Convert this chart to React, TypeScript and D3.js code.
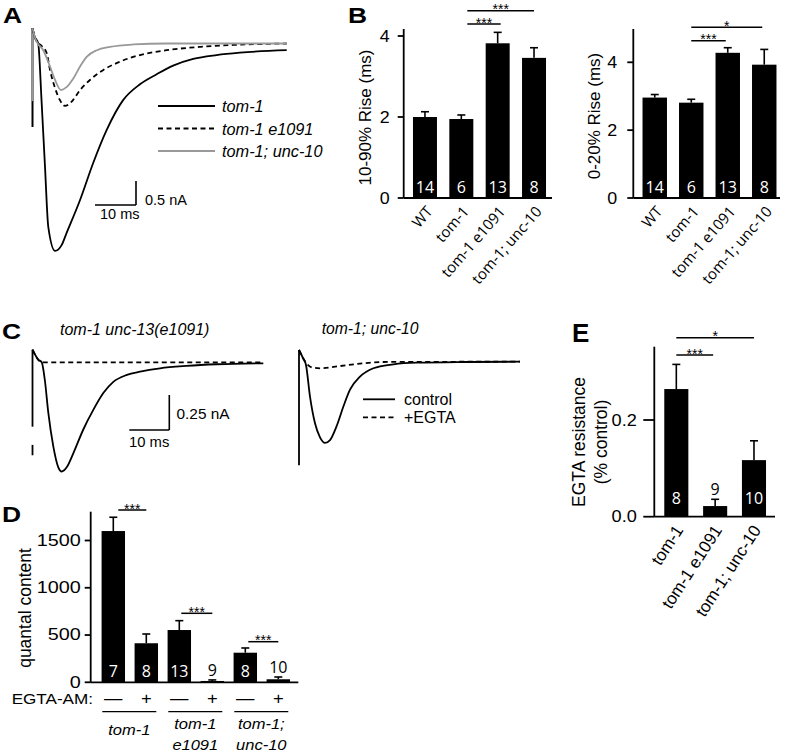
import React from 'react';
import * as d3 from 'd3';

type Pt = [number, number];

// ---------- Panel A traces: [time (ms), current (nA)] ----------
const traceA_tom1: Pt[] = [[0,0.32],[0.5,0.15],[1.4,0],[2.2,-1.18],[3.05,-2.57],[3.85,-3.82],[5.5,-4.32],[7.1,-4.2],[8.3,-3.95],[11.6,-3.26],[14.8,-2.49],[18.1,-1.8],[22.1,-1.18],[26.2,-0.85],[30.3,-0.64],[34.3,-0.46],[39.2,-0.32],[44.9,-0.24],[50.6,-0.19],[62,-0.14]];
const traceA_e1091: Pt[] = [[0,0.32],[0.5,0.15],[1.0,0.04],[2.2,-0.05],[3.46,-0.2],[4.27,-0.55],[5.5,-0.93],[6.7,-1.18],[7.9,-1.3],[9.56,-1.21],[11.6,-0.97],[14,-0.76],[17.3,-0.55],[21.3,-0.38],[26.2,-0.24],[32.7,-0.14],[40.9,-0.07],[49,-0.03],[62,0]];
const traceA_unc10: Pt[] = [[0,0.32],[0.5,0.15],[1.0,0.04],[2.63,-0.14],[4.27,-0.48],[5.5,-0.76],[6.95,-0.97],[8.3,-0.91],[9.95,-0.73],[11.6,-0.48],[13.2,-0.28],[15.7,-0.14],[18.9,-0.07],[24.6,-0.02],[32.7,0],[62,0]];
const stimA: number[] = [0.32, -1.74];
const legendA = ['tom-1', 'tom-1 e1091', 'tom-1; unc-10'];

// ---------- Panel C traces ----------
const traceC_e1091_control: Pt[] = [[0,0.09],[1.4,0.02],[2.3,0],[3.1,-0.13],[3.95,-0.36],[5.2,-0.6],[6.45,-0.75],[7.3,-0.78],[8.55,-0.75],[10.2,-0.65],[12.7,-0.48],[15.2,-0.34],[17.7,-0.22],[20.2,-0.14],[23.6,-0.09],[26.9,-0.067],[31.9,-0.043],[38.5,-0.026],[46,-0.014],[57.7,-0.007]];
const traceC_e1091_egta: Pt[] = [[0,0.09],[1.4,0.02],[2.3,0],[57.7,0]];
const traceC_unc10_control: Pt[] = [[0,0.084],[1,0.026],[1.75,-0.024],[2.75,-0.25],[4,-0.44],[5.25,-0.54],[6.5,-0.58],[7.75,-0.56],[9.4,-0.46],[11.1,-0.32],[12.75,-0.2],[15.25,-0.107],[18.6,-0.047],[23.6,-0.019],[29.4,-0.007],[41.9,-0.002],[55.25,0]];
const traceC_unc10_egta: Pt[] = [[0,0.084],[1,0.026],[2,-0.016],[3.2,-0.041],[5.25,-0.047],[10.25,-0.031],[15.25,-0.014],[21,-0.002],[55.25,0]];
const stimC_left: number[][] = [[0.09, -0.46], [-0.59, -0.664]];
const stimC_right: number[] = [0.084, -0.74];
const titlesC = ['tom-1 unc-13(e1091)', 'tom-1; unc-10'];
const legendC = ['control', '+EGTA'];

// ---------- Panel B ----------
const riseCategories = ['WT', 'tom-1', 'tom-1 e1091', 'tom-1; unc-10'];
const rise1090Mean = [2.0, 1.95, 3.82, 3.46];
const rise1090Err = [0.13, 0.1, 0.27, 0.25];
const rise020Mean = [2.96, 2.81, 4.28, 3.93];
const rise020Err = [0.09, 0.1, 0.15, 0.45];
const riseN = [14, 6, 13, 8];
const riseTicks = [0, 2, 4];

// ---------- Panel D ----------
const quantalMean = [1600, 413, 553, 14, 313, 32];
const quantalErr = [146, 98, 99, 11, 50, 24];
const quantalN = [7, 8, 13, 9, 8, 10];
const quantalEgta = ['—', '+', '—', '+', '—', '+'];
const quantalGroups = [['tom-1'], ['tom-1', 'e1091'], ['tom-1;', 'unc-10']];
const quantalTicks = [0, 500, 1000, 1500];

// ---------- Panel E ----------
const egtaCategories = ['tom-1', 'tom-1 e1091', 'tom-1; unc-10'];
const egtaResMean = [0.264, 0.022, 0.117];
const egtaResErr = [0.051, 0.014, 0.04];
const egtaResN = [8, 9, 10];
const egtaTicks = [0, 0.2];

const FONT = '"Liberation Sans", Arial, Helvetica, sans-serif';
const NFONT = '"Open Sans", "Liberation Sans", Arial, sans-serif';

// text with optional horizontal stretch
function T(props: any) {
  const { x, y, sx = 1, rot = 0, children, ...rest } = props;
  return (
    <text transform={`translate(${x},${y}) rotate(${rot}) scale(${sx},1)`} {...rest}>{children}</text>
  );
}

function Bars(props: {
  x: d3.ScaleBand<number>; y: d3.ScaleLinear<number, number>;
  means: number[]; errs: number[]; ns: number[]; nOffset: number; fs: number;
}) {
  const { x, y, means, errs, ns, nOffset, fs } = props;
  const bw = x.bandwidth();
  const y0 = y(0);
  return (
    <g>
      {means.map((m, i) => {
        const cx = (x(i) as number) + bw / 2;
        const top = y(m);
        const et = y(m + errs[i]);
        const inside = y0 - top > 24;
        return (
          <g key={i}>
            <rect x={x(i)} y={top} width={bw} height={y0 - top} fill="#000" />
            <line x1={cx} x2={cx} y1={top} y2={et} stroke="#000" strokeWidth={1.6} />
            <line x1={cx - 4} x2={cx + 4} y1={et} y2={et} stroke="#000" strokeWidth={1.6} />
            <text x={cx} y={inside ? y0 - nOffset : et - 10} textAnchor="middle" dominantBaseline="central"
              fill={inside ? '#fff' : '#000'} fontSize={fs} fontFamily={NFONT}>{ns[i]}</text>
          </g>
        );
      })}
    </g>
  );
}

function Sig({ x1, x2, y, label }: { x1: number; x2: number; y: number; label: string }) {
  return (
    <g>
      <line x1={x1} x2={x2} y1={y} y2={y} stroke="#000" strokeWidth={1.5} />
      <text x={(x1 + x2) / 2} y={y + 3.5} textAnchor="middle" fontSize={14} fontFamily={FONT}>{label}</text>
    </g>
  );
}

function YAxis({ x, y, ticks, top, tickLen, labelGap, fmt, fs, sx = 1 }: {
  x: number; y: d3.ScaleLinear<number, number>; ticks: number[]; top: number; tickLen: number; labelGap: number; fmt: (v: number) => string; fs: number; sx?: number;
}) {
  return (
    <g>
      <line x1={x} x2={x} y1={top} y2={y(0)} stroke="#000" strokeWidth={1.8} />
      {ticks.map((t) => (
        <g key={t}>
          <line x1={x - tickLen} x2={x} y1={y(t)} y2={y(t)} stroke="#000" strokeWidth={1.8} />
          <T x={x - labelGap} y={y(t)} sx={sx} textAnchor="end" dominantBaseline="central" fontSize={fs} fontFamily={FONT}>{fmt(t)}</T>
        </g>
      ))}
    </g>
  );
}

export default function App() {
  const xA = d3.scaleLinear().domain([0, 10]).range([32.5, 73.5]);
  const yA = d3.scaleLinear().domain([0, -1]).range([43.5, 91.5]);
  const lineA = d3.line<Pt>().x((d) => xA(d[0])).y((d) => yA(d[1])).curve(d3.curveMonotoneX);

  const xCL = d3.scaleLinear().domain([0, 10]).range([32.5, 72.5]);
  const yCL = d3.scaleLinear().domain([0, -0.25]).range([362.3, 397.3]);
  const xCR = d3.scaleLinear().domain([0, 10]).range([299, 339]);
  const yCR = d3.scaleLinear().domain([0, -0.25]).range([361.7, 396.7]);
  const lineCL = d3.line<Pt>().x((d) => xCL(d[0])).y((d) => yCL(d[1])).curve(d3.curveMonotoneX);
  const lineCR = d3.line<Pt>().x((d) => xCR(d[0])).y((d) => yCR(d[1])).curve(d3.curveMonotoneX);

  const idx4 = d3.range(4);
  const xB1 = d3.scaleBand<number>().domain(idx4).range([406.8, 552.2]).paddingInner(0.34).paddingOuter(0.17);
  const yB1 = d3.scaleLinear().domain([0, 4]).range([198, 36]);
  const xB2 = d3.scaleBand<number>().domain(idx4).range([636.5, 782.5]).paddingInner(0.33).paddingOuter(0.165);
  const yB2 = d3.scaleLinear().domain([0, 4]).range([198, 62.3]);
  const cB1 = (i: number) => (xB1(i) as number) + xB1.bandwidth() / 2;
  const cB2 = (i: number) => (xB2(i) as number) + xB2.bandwidth() / 2;

  const idx6 = d3.range(6);
  const xD = d3.scaleBand<number>().domain(idx6).range([96.8, 294.8]).paddingInner(0.29).paddingOuter(0.145);
  const yD = d3.scaleLinear().domain([0, 1500]).range([682.3, 540.5]);
  const cD = (i: number) => (xD(i) as number) + xD.bandwidth() / 2;

  const idx3 = d3.range(3);
  const xE = d3.scaleBand<number>().domain(idx3).range([656.9, 773.4]).paddingInner(0.38).paddingOuter(0.19);
  const yE = d3.scaleLinear().domain([0, 0.2]).range([516.7, 420]);
  const cE = (i: number) => (xE(i) as number) + xE.bandwidth() / 2;

  const panelLabel = (t: string, x: number, y: number, fs = 22, sx = 1.2) => (
    <T x={x} y={y} sx={sx} fontSize={fs} fontWeight="bold" fontFamily={FONT}>{t}</T>
  );

  return (
    <svg width={785} height={752} style={{ position: 'absolute', left: 0, top: 0, background: '#fff' }} fontFamily={FONT}>
      {/* ================= A ================= */}
      {panelLabel('A', 3, 23)}
      <line x1={xA(0)} x2={xA(0)} y1={yA(stimA[0])} y2={yA(stimA[1])} stroke="#000" strokeWidth={2} />
      <line x1={xA(0)} x2={xA(0)} y1={yA(stimA[0])} y2={yA(-1.2)} stroke="#999" strokeWidth={2} />
      <path d={lineA(traceA_tom1) || ''} fill="none" stroke="#000" strokeWidth={1.8} />
      <path d={lineA(traceA_e1091) || ''} fill="none" stroke="#000" strokeWidth={1.8} strokeDasharray="5 3.5" />
      <path d={lineA(traceA_unc10) || ''} fill="none" stroke="#999" strokeWidth={1.8} />
      {legendA.map((t, i) => (
        <g key={t}>
          <line x1={158} x2={215} y1={106 + i * 22.5} y2={106 + i * 22.5}
            stroke={i === 2 ? '#999' : '#000'} strokeWidth={1.8} strokeDasharray={i === 1 ? '5 3.5' : undefined} />
          <text x={222} y={106 + i * 22.5} dominantBaseline="central" fontSize={16.3} fontStyle="italic">{t}</text>
        </g>
      ))}
      <line x1={136} x2={136} y1={205 - (yA(-0.5) - yA(0))} y2={205} stroke="#000" strokeWidth={1.6} />
      <line x1={136 - (xA(10) - xA(0))} x2={136} y1={205} y2={205} stroke="#000" strokeWidth={1.6} />
      <text x={145} y={200} dominantBaseline="central" fontSize={14.5}>0.5 nA</text>
      <text x={100} y={214} dominantBaseline="central" fontSize={14.5}>10 ms</text>

      {/* ================= B ================= */}
      {panelLabel('B', 348, 23)}
      <text transform={`translate(365.5,117.5) rotate(-90)`} textAnchor="middle" dominantBaseline="central" fontSize={17}>10-90% Rise (ms)</text>
      <YAxis x={403.7} y={yB1} ticks={riseTicks} top={29} tickLen={6} labelGap={14} fmt={(v) => String(v)} fs={17} sx={1.05} />
      <line x1={403.7} x2={552} y1={198} y2={198} stroke="#000" strokeWidth={1.8} />
      <Bars x={xB1} y={yB1} means={rise1090Mean} errs={rise1090Err} ns={riseN} nOffset={11} fs={16} />
      <Sig x1={cB1(1) + 6} x2={cB1(3)} y={10.7} label="***" />
      <Sig x1={cB1(1) + 6} x2={cB1(2) + 3} y={24} label="***" />
      {riseCategories.map((c, i) => (
        <text key={c} transform={`translate(${cB1(i) + 4},${208}) rotate(-49)`} textAnchor="end" dominantBaseline="central"
          fontSize={15} fontFamily={NFONT}>{c}</text>
      ))}
      <text transform={`translate(594,116) rotate(-90)`} textAnchor="middle" dominantBaseline="central" fontSize={17}>0-20% Rise (ms)</text>
      <YAxis x={633.3} y={yB2} ticks={riseTicks} top={29} tickLen={6} labelGap={16} fmt={(v) => String(v)} fs={17} sx={1.05} />
      <line x1={633.3} x2={780} y1={198} y2={198} stroke="#000" strokeWidth={1.8} />
      <Bars x={xB2} y={yB2} means={rise020Mean} errs={rise020Err} ns={riseN} nOffset={11} fs={16} />
      <Sig x1={cB2(1)} x2={cB2(3) - 2} y={27.3} label="*" />
      <Sig x1={cB2(1)} x2={cB2(2) - 2} y={40.7} label="***" />
      {riseCategories.map((c, i) => (
        <text key={c} transform={`translate(${cB2(i) + 4},${208}) rotate(-49)`} textAnchor="end" dominantBaseline="central"
          fontSize={15} fontFamily={NFONT}>{c}</text>
      ))}

      {/* ================= C ================= */}
      {panelLabel('C', 2, 339)}
      <text x={60} y={329} dominantBaseline="central" fontSize={16} fontStyle="italic">{titlesC[0]}</text>
      <text x={321.7} y={328} dominantBaseline="central" fontSize={15.7} fontStyle="italic">{titlesC[1]}</text>
      {stimC_left.map((s, i) => (
        <line key={i} x1={xCL(0)} x2={xCL(0)} y1={yCL(s[0])} y2={yCL(s[1])} stroke="#000" strokeWidth={1.8} />
      ))}
      <path d={lineCL(traceC_e1091_control) || ''} fill="none" stroke="#000" strokeWidth={1.8} />
      <path d={lineCL(traceC_e1091_egta) || ''} fill="none" stroke="#000" strokeWidth={1.8} strokeDasharray="5 3.5" />
      <line x1={169.3} x2={169.3} y1={430 - (yCL(-0.25) - yCL(0))} y2={430} stroke="#000" strokeWidth={1.6} />
      <line x1={169.3 - (xCL(10) - xCL(0))} x2={169.3} y1={430} y2={430} stroke="#000" strokeWidth={1.6} />
      <text x={176.5} y={413} dominantBaseline="central" fontSize={15.4}>0.25 nA</text>
      <text x={129} y={442} dominantBaseline="central" fontSize={14.8}>10 ms</text>

      <line x1={xCR(0)} x2={xCR(0)} y1={yCR(stimC_right[0])} y2={yCR(stimC_right[1])} stroke="#000" strokeWidth={1.8} />
      <path d={lineCR(traceC_unc10_control) || ''} fill="none" stroke="#000" strokeWidth={1.8} />
      <path d={lineCR(traceC_unc10_egta) || ''} fill="none" stroke="#000" strokeWidth={1.8} strokeDasharray="5 3.5" />
      {legendC.map((t, i) => (
        <g key={t}>
          <line x1={363} x2={395} y1={399.3 + i * 18} y2={399.3 + i * 18} stroke="#000" strokeWidth={1.8}
            strokeDasharray={i === 1 ? '5 3.5' : undefined} />
          <text x={404} y={399.3 + i * 18} dominantBaseline="central" fontSize={16}>{t}</text>
        </g>
      ))}

      {/* ================= D ================= */}
      {panelLabel('D', 2, 522)}
      <text transform={`translate(25,608) rotate(-90)`} textAnchor="middle" dominantBaseline="central" fontSize={17.5}>quantal content</text>
      <YAxis x={90.7} y={yD} ticks={quantalTicks} top={511.7} tickLen={6} labelGap={10} fmt={(v) => String(v)} fs={16.5} sx={1.2} />
      <line x1={90.7} x2={298.3} y1={682.3} y2={682.3} stroke="#000" strokeWidth={1.8} />
      <Bars x={xD} y={yD} means={quantalMean} errs={quantalErr} ns={quantalN} nOffset={11} fs={16} />
      <Sig x1={cD(0) + 5} x2={cD(1)} y={510} label="***" />
      <Sig x1={cD(2) + 2} x2={cD(3)} y={613.3} label="***" />
      <Sig x1={cD(4) + 3} x2={cD(5)} y={641.7} label="***" />
      <T x={93} y={698.5} sx={1.18} textAnchor="end" dominantBaseline="central" fontSize={14.5}>EGTA-AM:</T>
      {quantalEgta.map((s, i) => (
        <T key={i} x={cD(i)} y={698} sx={1.15} textAnchor="middle" dominantBaseline="central" fontSize={16}>{s}</T>
      ))}
      {quantalGroups.map((g, gi) => {
        const a = cD(gi * 2) - 11;
        const b = cD(gi * 2 + 1) + 10;
        const mid = (a + b) / 2;
        return (
          <g key={gi}>
            <line x1={a} x2={b} y1={711.7} y2={711.7} stroke="#000" strokeWidth={1.2} />
            {g.length === 1 ? (
              <T x={mid} y={729.3} sx={1.1} textAnchor="middle" dominantBaseline="central" fontSize={15} fontStyle="italic">{g[0]}</T>
            ) : (
              g.map((t, k) => (
                <T key={k} x={mid} y={723.3 + k * 21.7} sx={1.1} textAnchor="middle" dominantBaseline="central" fontSize={15} fontStyle="italic">{t}</T>
              ))
            )}
          </g>
        );
      })}

      {/* ================= E ================= */}
      {panelLabel('E', 572, 342, 26, 1.0)}
      <text transform={`translate(578.5,442) rotate(-90)`} textAnchor="middle" dominantBaseline="central" fontSize={17.5}>EGTA resistance</text>
      <text transform={`translate(600.5,442) rotate(-90)`} textAnchor="middle" dominantBaseline="central" fontSize={17.5}>(% control)</text>
      <YAxis x={654.3} y={yE} ticks={egtaTicks} top={346.7} tickLen={11} labelGap={17.5} fmt={(v) => v.toFixed(1)} fs={16.5} sx={1.1} />
      <line x1={654.3} x2={775} y1={516.7} y2={516.7} stroke="#000" strokeWidth={1.8} />
      <Bars x={xE} y={yE} means={egtaResMean} errs={egtaResErr} ns={egtaResN} nOffset={19} fs={16} />
      <Sig x1={cE(0)} x2={cE(2)} y={337.7} label="*" />
      <Sig x1={cE(0)} x2={cE(1) - 2} y={355} label="***" />
      {egtaCategories.map((c, i) => (
        <text key={c} transform={`translate(${cE(i) + 3},${527}) rotate(-57)`} textAnchor="end" dominantBaseline="central"
          fontSize={17}>{c}</text>
      ))}
    </svg>
  );
}
